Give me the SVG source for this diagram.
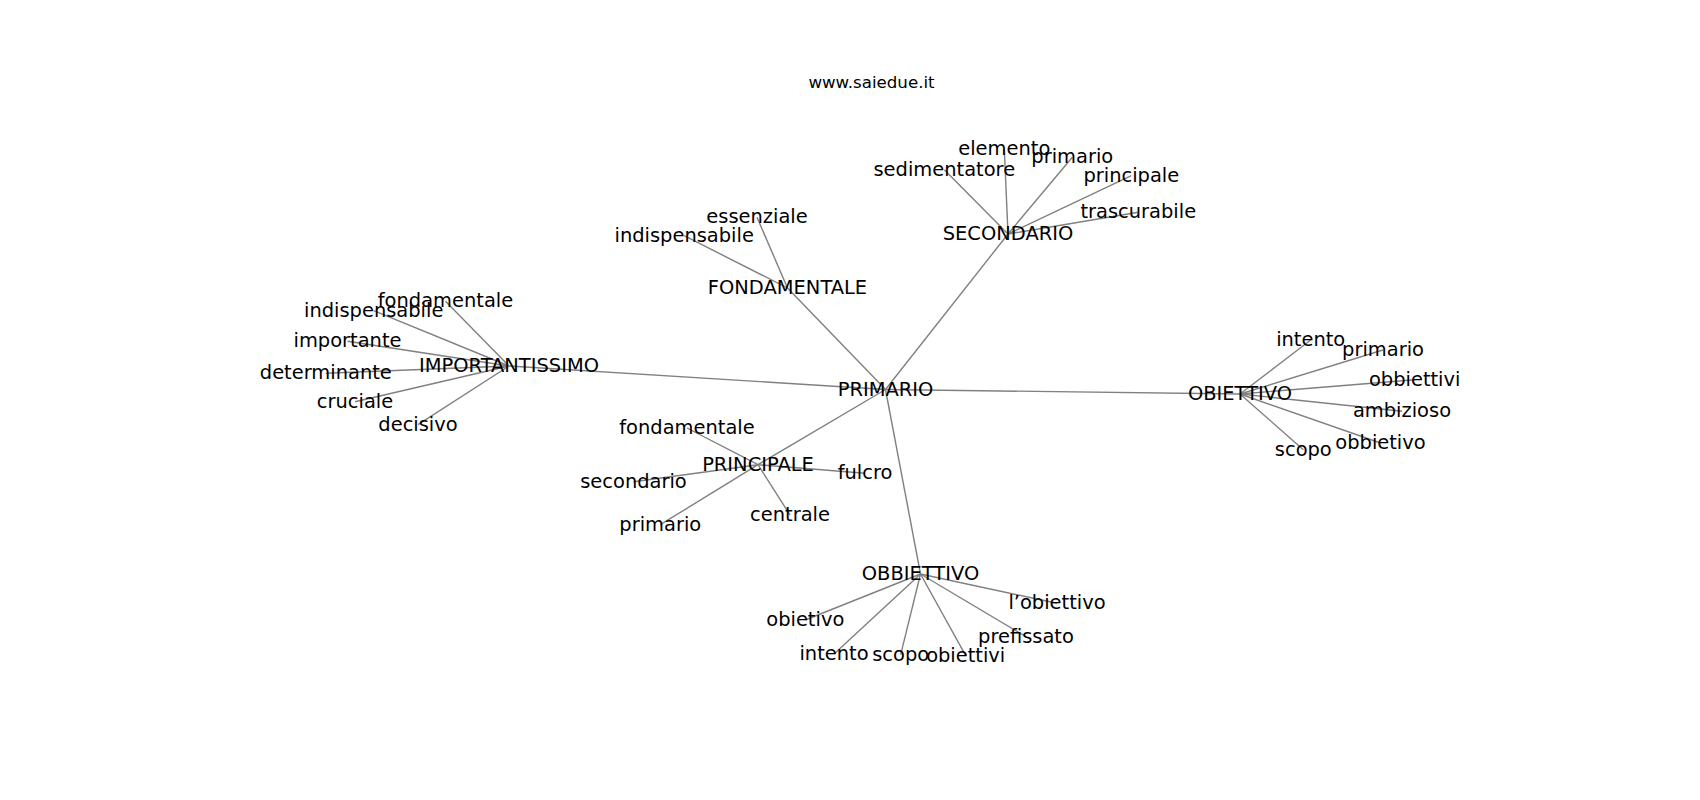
<svg xmlns="http://www.w3.org/2000/svg" width="1700" height="800" viewBox="0 0 1700 800">
<style>
.e{stroke:#808080;stroke-width:1.4;fill:none}
text{font-family:"DejaVu Sans",sans-serif;font-size:19.44px;fill:#000;text-anchor:middle}
.t{font-size:16.67px}
</style>
<rect width="1700" height="800" fill="#fff"/>
<text class="t" x="871.5" y="88">www.saiedue.it</text>
<g id="edges">
<line class="e" x1="885.5" y1="389.5" x2="509" y2="366"/>
<line class="e" x1="885.5" y1="389.5" x2="1240" y2="394"/>
<line class="e" x1="885.5" y1="389.5" x2="1008" y2="234"/>
<line class="e" x1="885.5" y1="389.5" x2="787.5" y2="288"/>
<line class="e" x1="885.5" y1="389.5" x2="758" y2="464.7"/>
<line class="e" x1="885.5" y1="389.5" x2="920.5" y2="574"/>
<line class="e" x1="509" y1="366" x2="445.5" y2="301.3"/>
<line class="e" x1="509" y1="366" x2="373.7" y2="310.7"/>
<line class="e" x1="509" y1="366" x2="347.5" y2="341.3"/>
<line class="e" x1="509" y1="366" x2="325.8" y2="373.3"/>
<line class="e" x1="509" y1="366" x2="355" y2="401.7"/>
<line class="e" x1="509" y1="366" x2="418" y2="424.7"/>
<line class="e" x1="1008" y1="234" x2="1004.3" y2="149"/>
<line class="e" x1="1008" y1="234" x2="1072.3" y2="157.3"/>
<line class="e" x1="1008" y1="234" x2="944.3" y2="169.7"/>
<line class="e" x1="1008" y1="234" x2="1131.3" y2="175.7"/>
<line class="e" x1="1008" y1="234" x2="1138.3" y2="212.3"/>
<line class="e" x1="787.5" y1="288" x2="757" y2="217.3"/>
<line class="e" x1="787.5" y1="288" x2="684.2" y2="235.7"/>
<line class="e" x1="758" y1="464.7" x2="687" y2="428"/>
<line class="e" x1="758" y1="464.7" x2="633.5" y2="481.7"/>
<line class="e" x1="758" y1="464.7" x2="865" y2="473.3"/>
<line class="e" x1="758" y1="464.7" x2="790" y2="515"/>
<line class="e" x1="758" y1="464.7" x2="660.3" y2="524.7"/>
<line class="e" x1="1240" y1="394" x2="1310.7" y2="340"/>
<line class="e" x1="1240" y1="394" x2="1383" y2="350"/>
<line class="e" x1="1240" y1="394" x2="1414.7" y2="379.7"/>
<line class="e" x1="1240" y1="394" x2="1402" y2="411.3"/>
<line class="e" x1="1240" y1="394" x2="1380.5" y2="443"/>
<line class="e" x1="1240" y1="394" x2="1303.3" y2="449.7"/>
<line class="e" x1="920.5" y1="574" x2="1057" y2="603.3"/>
<line class="e" x1="920.5" y1="574" x2="805.3" y2="620"/>
<line class="e" x1="920.5" y1="574" x2="1026" y2="636.7"/>
<line class="e" x1="920.5" y1="574" x2="834" y2="654"/>
<line class="e" x1="920.5" y1="574" x2="900.7" y2="654.7"/>
<line class="e" x1="920.5" y1="574" x2="965.7" y2="655.7"/>
</g>
<g id="n-primario"><text x="885.5" y="395.5">PRIMARIO</text></g>
<g id="n-importantissimo"><text x="509" y="372">IMPORTANTISSIMO</text></g>
<g id="n-imp-fondamentale"><text x="445.5" y="307.3">fondamentale</text></g>
<g id="n-imp-indispensabile"><text x="373.7" y="316.7">indispensabile</text></g>
<g id="n-imp-importante"><text x="347.5" y="347.3">importante</text></g>
<g id="n-imp-determinante"><text x="325.8" y="379.3">determinante</text></g>
<g id="n-imp-cruciale"><text x="355" y="407.7">cruciale</text></g>
<g id="n-imp-decisivo"><text x="418" y="430.7">decisivo</text></g>
<g id="n-secondario"><text x="1008" y="240">SECONDARIO</text></g>
<g id="n-sec-elemento"><text x="1004.3" y="155">elemento</text></g>
<g id="n-sec-primario"><text x="1072.3" y="163.3">primario</text></g>
<g id="n-sec-sedimentatore"><text x="944.3" y="175.7">sedimentatore</text></g>
<g id="n-sec-principale"><text x="1131.3" y="181.7">principale</text></g>
<g id="n-sec-trascurabile"><text x="1138.3" y="218.3">trascurabile</text></g>
<g id="n-fondamentale"><text x="787.5" y="294">FONDAMENTALE</text></g>
<g id="n-fon-essenziale"><text x="757" y="223.3">essenziale</text></g>
<g id="n-fon-indispensabile"><text x="684.2" y="241.7">indispensabile</text></g>
<g id="n-principale"><text x="758" y="470.7">PRINCIPALE</text></g>
<g id="n-pri-fondamentale"><text x="687" y="434">fondamentale</text></g>
<g id="n-pri-secondario"><text x="633.5" y="487.7">secondario</text></g>
<g id="n-pri-fulcro"><text x="865" y="479.3">fulcro</text></g>
<g id="n-pri-centrale"><text x="790" y="521">centrale</text></g>
<g id="n-pri-primario"><text x="660.3" y="530.7">primario</text></g>
<g id="n-obiettivo"><text x="1240" y="400">OBIETTIVO</text></g>
<g id="n-obi-intento"><text x="1310.7" y="346">intento</text></g>
<g id="n-obi-primario"><text x="1383" y="356">primario</text></g>
<g id="n-obi-obbiettivi"><text x="1414.7" y="385.7">obbiettivi</text></g>
<g id="n-obi-ambizioso"><text x="1402" y="417.3">ambizioso</text></g>
<g id="n-obi-obbietivo"><text x="1380.5" y="449">obbietivo</text></g>
<g id="n-obi-scopo"><text x="1303.3" y="455.7">scopo</text></g>
<g id="n-obbiettivo"><text x="920.5" y="580">OBBIETTIVO</text></g>
<g id="n-obb-lobiettivo"><text x="1057" y="609.3">l’obiettivo</text></g>
<g id="n-obb-obietivo"><text x="805.3" y="626">obietivo</text></g>
<g id="n-obb-prefissato"><text x="1026" y="642.7">prefissato</text></g>
<g id="n-obb-intento"><text x="834" y="660">intento</text></g>
<g id="n-obb-scopo"><text x="900.7" y="660.7">scopo</text></g>
<g id="n-obb-obiettivi"><text x="965.7" y="661.7">obiettivi</text></g>
</svg>
